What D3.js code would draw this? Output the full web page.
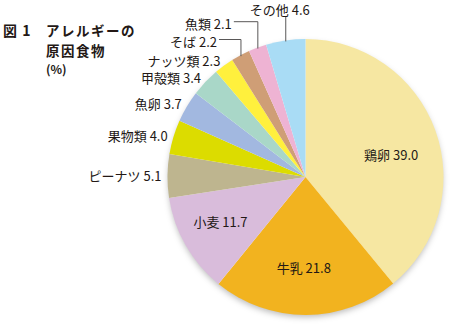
<!DOCTYPE html>
<html><head><meta charset="utf-8">
<script src="https://cdn.jsdelivr.net/npm/d3@7"></script>
<style>
html,body{margin:0;padding:0;background:#fff;}
svg{display:block;font-family:"Noto Sans CJK JP","Noto Sans",sans-serif;}
</style></head>
<body>
<svg id="c" width="450" height="325"></svg>
<script>
const categories = ["鶏卵","牛乳","小麦","ピーナツ","果物類","魚卵","甲殻類","ナッツ類","そば","魚類","その他"];
const values = [39.0,21.8,11.7,5.1,4.0,3.7,3.4,2.3,2.2,2.1,4.6];
const valueLabels = ["39.0","21.8","11.7","5.1","4.0","3.7","3.4","2.3","2.2","2.1","4.6"];
const colors = ["#f6e7a2","#f2b31f","#d9bcdb","#beb58f","#dcdc00","#a2b8e0","#a9d7c8","#fff03d","#cf9e76","#eeb3d3","#a9dcf5"];
const titleLines = ["アレルギーの","原因食物"];
const figLabel = "図 1";
const unitLabel = "(%)";

const svg = d3.select("#c");
const cx = 305.5, cy = 177, R = 138;
const FS = 13;

const defs = svg.append("defs");
const f = defs.append("filter").attr("id","sh").attr("x","-20%").attr("y","-20%").attr("width","140%").attr("height","140%");
f.append("feDropShadow").attr("dx",0).attr("dy",3).attr("stdDeviation",3).attr("flood-color","#000").attr("flood-opacity",0.28);

const data = categories.map((c,i)=>({cat:c, v:values[i], lab:valueLabels[i], col:colors[i]}));
const pie = d3.pie().sort(null).value(d=>d.v);
const arcs = pie(data);
const arc = d3.arc().innerRadius(0).outerRadius(R);

const g = svg.append("g").attr("transform",`translate(${cx},${cy})`);
g.append("circle").attr("r",R-1).attr("fill","#fff").attr("filter","url(#sh)");
g.selectAll("path.s").data(arcs).join("path").attr("class","s")
  .attr("d",arc).attr("fill",d=>d.data.col);

const mid = d=>(d.startAngle+d.endAngle)/2;
const pt = (a,r)=>[Math.sin(a)*r, -Math.cos(a)*r];

// inside labels
const inside = ["鶏卵","牛乳","小麦"];
const nudge = {"鶏卵":[0,8],"牛乳":[-2,0],"小麦":[0,-4]};
arcs.filter(d=>inside.includes(d.data.cat)).forEach(d=>{
  const p = pt(mid(d), d.data.cat==="小麦"?98:91);
  const n = nudge[d.data.cat];
  g.append("text").attr("x",p[0]+n[0]).attr("y",p[1]+n[1])
    .attr("text-anchor","middle").attr("dominant-baseline","central")
    .attr("font-size",FS).attr("fill","#231815")
    .text(d.data.cat+" "+d.data.lab);
});

// outside plain labels
const outside = ["ピーナツ","果物類","魚卵","甲殻類","ナッツ類"];
arcs.filter(d=>outside.includes(d.data.cat)).forEach(d=>{
  const p = pt(mid(d), 144);
  g.append("text").attr("x",p[0]).attr("y",p[1])
    .attr("text-anchor","end").attr("dominant-baseline","central")
    .attr("font-size",FS).attr("fill","#231815")
    .text(d.data.cat+" "+d.data.lab);
});

// leader labels
const leaders = {"そば":{y:39.5-cy, dx:-22}, "魚類":{y:21.7-cy, dx:-24}, "その他":{y:17-cy, dx:0}};
arcs.filter(d=>leaders[d.data.cat]).forEach(d=>{
  const L = leaders[d.data.cat];
  const p = pt(mid(d), R-1);
  const pts = L.dx===0 ? [[p[0],p[1]],[p[0],L.y]] : [[p[0],p[1]],[p[0],L.y],[p[0]+L.dx,L.y]];
  g.append("path").attr("d",d3.line()(pts)).attr("fill","none").attr("stroke","#595757").attr("stroke-width",1);
  if (L.dx===0) {
    g.append("text").attr("x",p[0]-6).attr("y",L.y-7.5)
      .attr("text-anchor","middle").attr("dominant-baseline","central")
      .attr("font-size",FS).attr("fill","#231815").text(d.data.cat+" "+d.data.lab);
  } else {
    g.append("text").attr("x",p[0]+L.dx-2).attr("y",L.y+1.5)
      .attr("text-anchor","end").attr("dominant-baseline","central")
      .attr("font-size",FS).attr("fill","#231815").text(d.data.cat+" "+d.data.lab);
  }
});

// title
svg.append("text").attr("x",3).attr("y",30).attr("dominant-baseline","central")
  .attr("font-size",14).attr("letter-spacing",1).attr("font-weight","bold").attr("fill","#231815").text(figLabel);
titleLines.forEach((t,i)=>{
  svg.append("text").attr("x",46).attr("y",29.5+i*20).attr("dominant-baseline","central")
    .attr("font-size",13.5).attr("letter-spacing",1.5).attr("font-weight","bold").attr("fill","#231815").text(t);
});
svg.append("text").attr("x",46).attr("y",68.5).attr("dominant-baseline","central")
  .attr("font-size",12).attr("font-weight","bold").attr("fill","#231815").text(unitLabel);
</script>
</body></html>
